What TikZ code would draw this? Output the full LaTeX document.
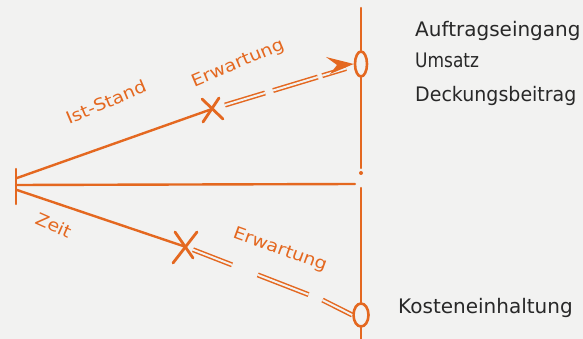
\documentclass[tikz,border=0pt]{standalone}
\usepackage{fontspec}
\setmainfont{DejaVu Sans}
\usetikzlibrary{shapes.geometric,calc}
\definecolor{org}{RGB}{228,104,32}
\definecolor{paper}{RGB}{242,242,241}
\definecolor{ink}{RGB}{40,40,40}
\newcommand{\handtxt}[1]{\scalebox{1.12}[1]{#1}}
\begin{document}
\begin{tikzpicture}[x=1pt,y=-1pt,
  ol/.style={draw=org,line width=2.4pt,line cap=round},
  xm/.style={draw=org,line width=2.8pt,line cap=round},
  dl/.style={draw=org,line width=1.5pt,double=paper,double distance=2pt},
  hand/.style={text=org,font=\fontsize{17}{17}\selectfont,inner sep=0pt},
  lbl/.style={text=ink,font=\fontsize{20}{20}\selectfont,anchor=base west,inner sep=0pt},
  oval/.style={ellipse,draw=org,line width=2.6pt,inner sep=0pt}]
\fill[paper] (0,0) rectangle (583,339);
\useasboundingbox (0,0) rectangle (583,339);

% points
\coordinate (apex) at (16,185);
\coordinate (apexU) at (17,178);
\coordinate (apexL) at (17,190);
\coordinate (tickT) at (16,169);
\coordinate (tickB) at (16,204);
\coordinate (hend) at (355,184);
\coordinate (xa) at (212,109);
\coordinate (xb) at (186,247);
\node[oval,minimum width=12,minimum height=25] (ea) at (361,64) {};
\node[oval,minimum width=15,minimum height=23] (eb) at (361,315) {};

% vertical axis
\coordinate (vtop) at (361,8);
\coordinate (vmid1) at (361,168);
\node[circle,fill=org,inner sep=0pt,minimum size=4pt] (dot) at (361,173) {};
\coordinate (vmid2) at (361,188);
\coordinate (vbot) at (361,345);
\draw[ol] (vtop) -- (ea.north);
\draw[ol] (ea.south) -- (vmid1);
\draw[ol] (vmid2) -- (eb.north);
\draw[ol] (eb.south) -- (vbot);

% left tick and rays
\draw[ol] (tickT) -- (tickB);
\draw[ol] (apex) -- (hend);
\draw[ol] (apexU) -- (xa);
\draw[ol] (apexL) -- (xb);

% X marks
\draw[xm] ([shift={(-10,-10)}]xa) -- ([shift={(11,10)}]xa);
\draw[xm] ([shift={(-9,13)}]xa) -- ([shift={(7,-11)}]xa);
\draw[xm] ([shift={(-11,-15)}]xb) -- ([shift={(7,11)}]xb);
\draw[xm] ([shift={(11,-15)}]xb) -- ([shift={(-13,16)}]xb);

% expectation double lines
\draw[dl] ($(xa)!0.087!(ea)$) -- ($(xa)!0.356!(ea)$);
\draw[dl] ($(xa)!0.41!(ea)$) -- ($(xa)!0.71!(ea)$);
\draw[dl] ($(xa)!0.74!(ea)$) -- ($(xa)!0.90!(ea)$);
\fill[org] (ea.west) -- (326,57) -- (337,65) -- (330,74) -- cycle;

\draw[dl] ($(xb)!0.04!(eb)$) -- ($(xb)!0.263!(eb)$);
\draw[dl] ($(xb)!0.41!(eb)$) -- ($(xb)!0.70!(eb)$);
\draw[dl] ($(xb)!0.78!(eb)$) -- (eb.west);

% hand labels
\node[hand,rotate=23] (ist) at (106,102) {\handtxt{Ist-Stand}};
\node[hand,rotate=23] (erw1) at (238,64) {\handtxt{Erwartung}};
\node[hand,rotate=-24] (zeit) at (54,225) {\handtxt{Zeit}};
\node[hand,rotate=-20] (erw2) at (280,250) {\handtxt{Erwartung}};

% typed labels
\node[lbl] (auf) at (415,37) {Auftragseingang};
\node[lbl] (ums) at (415,68) {\scalebox{0.85}[1]{Umsatz}};
\node[lbl] (deck) at (415,102) {\scalebox{0.95}[1]{Deckungsbeitrag}};
\node[lbl] (kost) at (398,313) {Kosteneinhaltung};
\end{tikzpicture}
\end{document}
